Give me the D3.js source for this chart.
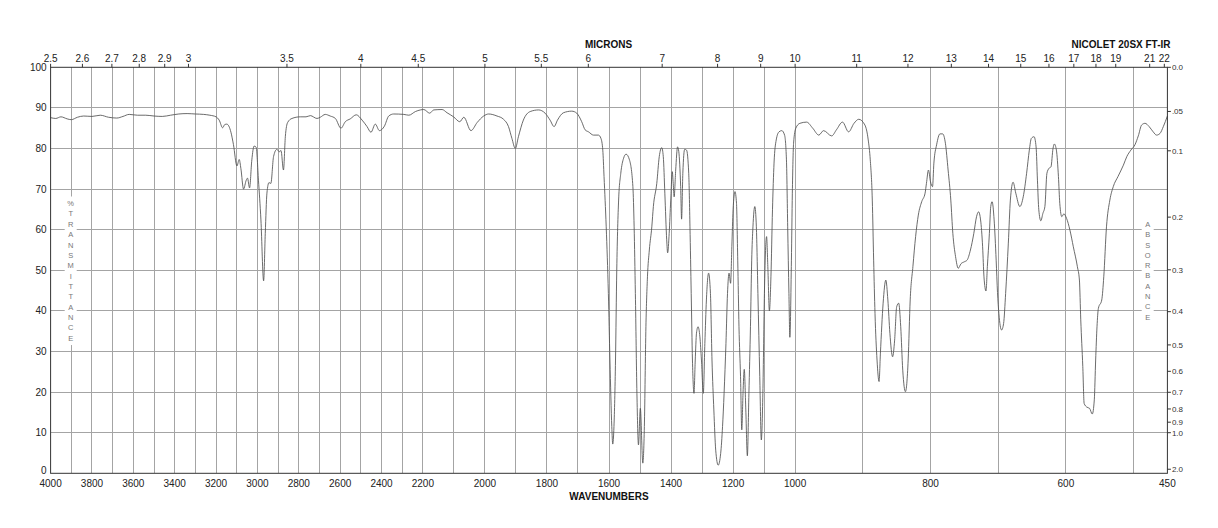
<!DOCTYPE html>
<html>
<head>
<meta charset="utf-8">
<script src="https://cdn.jsdelivr.net/npm/d3@7"></script>
<style>
  html, body { margin: 0; padding: 0; background: #fff; }
  svg { display: block; font-family: "Liberation Sans", Arial, Helvetica, sans-serif; }
</style>
</head>
<body>
<div id="chart"></div>
<script>
// spectrum (cm-1, %T)
var wavenumbers = [
  4000, 3975, 3950, 3920, 3900, 3870, 3840, 3800, 3760, 3720, 3680, 3650, 3620, 3580, 3540, 3500,
  3460, 3420, 3380, 3340, 3300, 3260, 3230, 3200, 3185, 3168, 3158, 3148, 3138, 3128, 3116, 3099,
  3088, 3080, 3067, 3054, 3048, 3038, 3027, 3016, 3006, 2995, 2983, 2970, 2962, 2954, 2944, 2935,
  2922, 2906, 2894, 2886, 2874, 2865, 2854, 2833, 2793, 2765, 2744, 2712, 2696, 2672, 2648, 2623,
  2596, 2575, 2551, 2522, 2494, 2470, 2451, 2430, 2410, 2386, 2365, 2341, 2292, 2268, 2236, 2212,
  2197, 2178, 2165, 2138, 2122, 2101, 2081, 2068, 2045, 2025, 2004, 1988, 1961, 1940, 1924, 1913,
  1902, 1892, 1876, 1854, 1827, 1806, 1790, 1777, 1766, 1747, 1720, 1704, 1688, 1677, 1666, 1650,
  1634, 1626, 1620, 1616, 1609, 1602, 1597, 1591, 1588, 1584, 1579, 1575, 1569, 1562, 1553, 1545,
  1534, 1523, 1519, 1515, 1510, 1505, 1499, 1491, 1486, 1481, 1476, 1470, 1462, 1457, 1446, 1438,
  1430, 1425, 1420, 1414, 1411, 1406, 1401, 1396, 1393, 1390, 1385, 1379, 1375, 1369, 1366, 1362,
  1356, 1350, 1343, 1339, 1335, 1331, 1326, 1322, 1318, 1313, 1307, 1302, 1296, 1291, 1286, 1279,
  1273, 1268, 1262, 1256, 1248, 1240, 1234, 1229, 1223, 1218, 1213, 1208, 1204, 1200, 1194, 1189,
  1185, 1181, 1176, 1172, 1168, 1164, 1159, 1154, 1149, 1144, 1140, 1136, 1130, 1125, 1120, 1114,
  1109, 1104, 1099, 1095, 1092, 1088, 1083, 1078, 1073, 1068, 1061, 1052, 1043, 1034, 1028, 1024,
  1020, 1017, 1012, 1009, 1005, 999, 993, 983, 974, 965, 958, 946, 939, 930, 921, 913,
  906, 897, 892, 889, 886, 884, 882, 879, 876, 874, 870, 866, 863, 860, 856, 853,
  850, 847, 844, 841, 837, 833, 830, 826, 822, 818, 813, 808, 806, 803, 800, 797,
  795, 791, 786, 782, 778, 774, 770, 767, 763, 759, 755, 750, 746, 741, 736, 732,
  729, 726, 723, 721, 718, 716, 713, 711, 709, 706, 703, 701, 699, 695, 692, 689,
  685, 682, 678, 674, 668, 663, 658, 654, 651, 647, 644, 642, 640, 637, 634, 631,
  628, 625, 622, 619, 617, 614, 611, 609, 606, 603, 599, 594, 589, 583, 580, 578,
  575, 573, 569, 565, 561, 558, 556, 554, 552, 547, 544, 540, 535, 530, 523, 515,
  510, 504, 498, 493, 488, 483, 477, 471, 466, 461, 456, 450
];
var transmittance = [
  87.6, 87.4, 87.8, 87.3, 87.1, 87.7, 88.0, 87.9, 88.2, 87.7, 87.5, 87.9, 88.4, 88.2, 88.2, 88.0,
  87.9, 88.2, 88.5, 88.6, 88.5, 88.4, 88.2, 87.8, 87.0, 85.1, 85.9, 86.0, 85.5, 84.0, 81.0, 75.7,
  77.3, 75.1, 70.0, 72.2, 72.7, 70.3, 77.2, 80.6, 80.3, 72.2, 62.4, 47.4, 59.1, 69.0, 71.6, 71.4,
  78.0, 79.8, 79.2, 79.5, 74.7, 82.9, 86.4, 87.4, 87.8, 87.8, 88.1, 87.4, 87.7, 88.4, 88.0, 87.4,
  85.0, 86.6, 87.3, 88.3, 87.0, 85.4, 84.0, 86.0, 84.4, 85.5, 88.0, 88.5, 88.4, 88.2, 89.1, 89.5,
  89.6, 88.7, 89.5, 89.6, 88.8, 87.8, 86.6, 87.7, 84.4, 86.4, 88.0, 88.5, 88.0, 87.2, 85.4, 82.5,
  80.0, 82.9, 87.0, 89.1, 89.5, 88.7, 87.0, 85.4, 87.0, 88.8, 89.2, 88.7, 86.6, 84.6, 84.1, 83.3,
  83.3, 82.5, 79.6, 73.1, 60.7, 44.3, 27.9, 11.5, 7.2, 11.5, 27.9, 50.0, 67.3, 73.9, 77.6, 78.6,
  77.2, 70.6, 60.7, 44.3, 19.7, 7.0, 16.0, 2.5, 11.5, 36.1, 48.4, 55.0, 60.7, 65.7, 71.4, 78.0,
  80.2, 78.0, 69.0, 57.5, 54.3, 59.1, 67.3, 74.3, 71.4, 68.1, 74.7, 80.4, 79.2, 70.6, 62.6, 73.9,
  79.8, 79.6, 73.9, 60.7, 44.3, 27.9, 19.7, 27.9, 34.5, 36.1, 33.6, 27.9, 19.7, 32.0, 42.7, 49.3,
  44.3, 27.9, 15.6, 5.7, 2.0, 4.9, 11.5, 19.7, 32.0, 44.3, 49.3, 46.8, 55.8, 64.9, 69.4, 66.5,
  52.5, 36.1, 23.8, 10.7, 19.7, 25.6, 15.6, 4.3, 19.7, 36.1, 52.5, 60.7, 65.7, 60.7, 44.3, 23.8,
  8.2, 19.7, 44.3, 55.8, 58.3, 50.9, 40.0, 48.4, 64.9, 76.4, 82.1, 84.1, 84.4, 83.3, 77.2, 60.7,
  44.3, 33.5, 52.5, 69.0, 81.3, 85.0, 86.2, 86.5, 85.0, 83.3, 84.4, 83.1, 84.6, 86.5, 84.1, 86.2,
  87.2, 85.8, 82.1, 77.2, 67.3, 52.5, 39.4, 27.9, 22.6, 29.6, 41.9, 47.6, 42.7, 34.5, 28.7, 32.8,
  41.0, 41.9, 36.1, 25.4, 20.1, 27.9, 42.7, 50.9, 58.3, 63.6, 66.9, 69.0, 71.4, 74.7, 71.8, 70.6,
  76.4, 80.9, 83.6, 83.6, 81.3, 74.7, 67.3, 59.1, 53.4, 50.5, 51.6, 52.1, 52.5, 55.0, 59.1, 63.2,
  64.4, 62.4, 55.8, 48.4, 44.9, 50.9, 59.1, 65.7, 66.9, 62.4, 52.5, 44.5, 39.4, 35.3, 36.9, 44.3,
  56.7, 67.3, 71.7, 69.0, 65.7, 68.1, 73.9, 79.6, 82.5, 82.9, 80.4, 72.2, 64.9, 62.2, 64.0, 65.7,
  73.9, 75.1, 75.5, 80.0, 81.1, 79.6, 73.1, 66.5, 63.2, 63.9, 62.8, 59.9, 55.8, 50.9, 47.6, 37.8,
  26.3, 17.2, 16.3, 16.0, 14.6, 18.1, 27.9, 36.1, 40.6, 42.7, 48.4, 60.7, 67.3, 70.6, 73.1, 75.9,
  78.0, 79.6, 80.9, 83.1, 85.8, 86.2, 85.4, 84.1, 83.3, 83.7, 85.4, 88.0
];

var wavenumberLabels = [4000, 3800, 3600, 3400, 3200, 3000, 2800, 2600, 2400, 2200, 2000,
                        1800, 1600, 1400, 1200, 1000, 800, 600, 450];
var micronLabels = [2.5, 2.6, 2.7, 2.8, 2.9, 3, 3.5, 4, 4.5, 5, 5.5, 6, 7, 8, 9, 10,
                    11, 12, 13, 14, 15, 16, 17, 18, 19, 21, 22];
var transLabels = [0, 10, 20, 30, 40, 50, 60, 70, 80, 90, 100];
var absorbTicks = [0, 0.05, 0.1, 0.2, 0.3, 0.4, 0.5, 0.6, 0.7, 0.8, 0.9, 1.0, 2.0];
var absorbLabels = ["0.0", ".05", "0.1", "0.2", "0.3", "0.4", "0.5", "0.6", "0.7", "0.8", "0.9", "1.0", "2.0"];

(function () {
  var width = 1218, height = 528;
  var pLeft = 50.6, pRight = 1167.4, pTop = 67.3, pBottom = 473.3;

  // three equal-width panels: 4000-2200, 2200-1000, 1000-450
  var seg = (pRight - pLeft) / 3;
  var x = d3.scaleLinear()
      .domain([4000, 2200, 1000, 450])
      .range([pLeft, pLeft + seg, pLeft + 2 * seg, pRight]);
  var y = d3.scaleLinear().domain([0, 100]).range([pBottom, pTop]);

  var svg = d3.select("#chart").append("svg")
      .attr("width", width)
      .attr("height", height);

  var grid = svg.append("g")
      .attr("stroke", "#a4a4a4")
      .attr("stroke-width", 1)
      .attr("shape-rendering", "crispEdges");

  grid.selectAll("line.v")
      .data(d3.range(3900, 450, -100))
    .enter().append("line")
      .attr("x1", function(d) { return x(d); })
      .attr("x2", function(d) { return x(d); })
      .attr("y1", pTop)
      .attr("y2", pBottom);

  grid.selectAll("line.h")
      .data(d3.range(10, 100, 10))
    .enter().append("line")
      .attr("x1", pLeft)
      .attr("x2", pRight)
      .attr("y1", function(d) { return y(d); })
      .attr("y2", function(d) { return y(d); });

  /* ---------------- side captions over white boxes ---------------- */
  function sideCaption(letters, cx, cy0, step) {
    var h = (letters.length - 1) * step;
    svg.append("rect")
        .attr("x", cx - 6).attr("y", cy0 - 7)
        .attr("width", 12).attr("height", h + 14)
        .attr("fill", "#fff");
    svg.append("g").selectAll("text")
        .data(letters)
      .enter().append("text")
        .attr("x", cx)
        .attr("y", function(d, i) { return cy0 + i * step; })
        .attr("dy", "0.35em")
        .attr("text-anchor", "middle")
        .attr("font-size", 7.5)
        .attr("fill", "#777")
        .text(function(d) { return d; });
  }
  sideCaption("%TRANSMITTANCE".split(""), 70.7, 203.5, 10.35);
  sideCaption("ABSORBANCE".split(""), 1147.7, 224.3, 10.3);

  /* ---------------- spectrum ---------------- */
  var points = wavenumbers.map(function(w, i) { return [w, transmittance[i]]; });
  var line = d3.line()
      .x(function(d) { return x(d[0]); })
      .y(function(d) { return y(d[1]); })
      .curve(d3.curveMonotoneX);

  svg.append("path")
      .datum(points)
      .attr("d", line)
      .attr("fill", "none")
      .attr("stroke", "#505050")
      .attr("stroke-width", 0.85);

  /* ---------------- frame ---------------- */
  svg.append("rect")
      .attr("x", pLeft).attr("y", pTop)
      .attr("width", pRight - pLeft).attr("height", pBottom - pTop)
      .attr("fill", "none")
      .attr("stroke", "#333")
      .attr("stroke-width", 1);

  /* ---------------- left %T labels ---------------- */
  svg.append("g").selectAll("text")
      .data(transLabels)
    .enter().append("text")
      .attr("x", pLeft - 4)
      .attr("y", function(d) { return y(d); })
      .attr("dy", function(d) { return d === 0 ? "0.1em" : "0.35em"; })
      .attr("text-anchor", "end")
      .attr("font-size", 10)
      .attr("fill", "#222")
      .text(function(d) { return d; });

  /* ---------------- right absorbance ticks ---------------- */
  var ra = svg.append("g");
  absorbTicks.forEach(function(a, i) {
    var yy = y(100 * Math.pow(10, -a));
    ra.append("line")
        .attr("x1", pRight).attr("x2", pRight + 3.5)
        .attr("y1", yy).attr("y2", yy)
        .attr("stroke", "#333");
    ra.append("text")
        .attr("x", pRight + 4.5)
        .attr("y", yy)
        .attr("dy", "0.35em")
        .attr("font-size", 8)
        .attr("fill", "#333")
        .text(absorbLabels[i]);
  });

  /* ---------------- top microns axis ---------------- */
  var tm = svg.append("g");
  micronLabels.forEach(function(m) {
    var xx = x(10000 / m);
    tm.append("line")
        .attr("x1", xx).attr("x2", xx)
        .attr("y1", pTop).attr("y2", pTop - 3.5)
        .attr("stroke", "#333");
    tm.append("text")
        .attr("x", xx)
        .attr("y", 61.5)
        .attr("text-anchor", "middle")
        .attr("font-size", 10)
        .attr("fill", "#222")
        .text(m);
  });

  /* ---------------- bottom wavenumber labels ---------------- */
  svg.append("g").selectAll("text")
      .data(wavenumberLabels)
    .enter().append("text")
      .attr("x", function(d) { return x(d); })
      .attr("y", 486.5)
      .attr("text-anchor", "middle")
      .attr("font-size", 10)
      .attr("fill", "#222")
      .text(function(d) { return d; });

  /* ---------------- titles ---------------- */
  svg.append("text")
      .attr("x", 608.5).attr("y", 48.3)
      .attr("text-anchor", "middle")
      .attr("font-size", 10).attr("font-weight", "bold")
      .attr("fill", "#111")
      .text("MICRONS");

  svg.append("text")
      .attr("x", 1170.5).attr("y", 48.3)
      .attr("text-anchor", "end")
      .attr("font-size", 10).attr("font-weight", "bold")
      .attr("fill", "#111")
      .text("NICOLET 20SX FT-IR");

  svg.append("text")
      .attr("x", 609).attr("y", 500)
      .attr("text-anchor", "middle")
      .attr("font-size", 10).attr("font-weight", "bold")
      .attr("fill", "#111")
      .text("WAVENUMBERS");
})();
</script>
</body>
</html>
